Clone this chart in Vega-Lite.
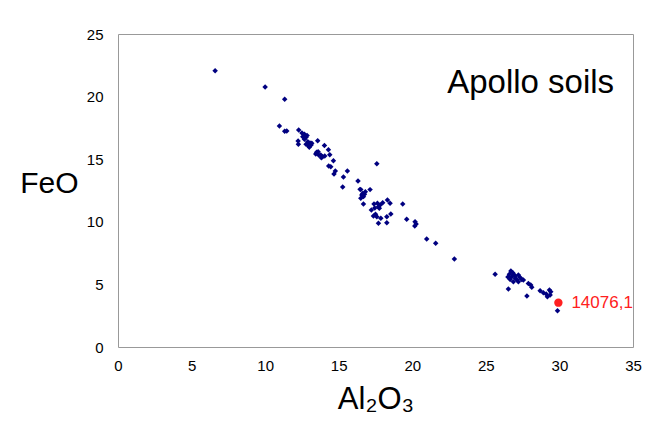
{
  "$schema": "https://vega.github.io/schema/vega-lite/v6.json",
  "autosize": "none",
  "width": 515,
  "height": 313,
  "padding": {"left": 118, "top": 34, "right": 36, "bottom": 90},
  "background": "white",
  "config": {
    "font": "Liberation Sans",
    "view": {"stroke": "#999999", "strokeWidth": 1},
    "axis": {"grid": false, "ticks": false, "domain": false, "labelFlush": false, "labelFont": "Liberation Sans", "labelFontSize": 15, "labelColor": "#000000", "titleFont": "Liberation Sans", "titleFontWeight": "normal", "titleColor": "#000000"}
  },
  "datasets": {
    "soils": [
      {"Al2O3": 6.6, "FeO": 22.07}, {"Al2O3": 10.0, "FeO": 20.77}, {"Al2O3": 11.33, "FeO": 19.78}, {"Al2O3": 10.97, "FeO": 17.65},
      {"Al2O3": 11.33, "FeO": 17.23}, {"Al2O3": 11.47, "FeO": 17.25}, {"Al2O3": 12.28, "FeO": 17.33}, {"Al2O3": 12.67, "FeO": 17.0},
      {"Al2O3": 12.56, "FeO": 16.8}, {"Al2O3": 12.78, "FeO": 16.75}, {"Al2O3": 12.67, "FeO": 16.6}, {"Al2O3": 12.85, "FeO": 16.9},
      {"Al2O3": 12.5, "FeO": 17.1}, {"Al2O3": 12.24, "FeO": 16.45}, {"Al2O3": 12.26, "FeO": 16.19}, {"Al2O3": 12.78, "FeO": 16.2},
      {"Al2O3": 12.94, "FeO": 16.08}, {"Al2O3": 13.12, "FeO": 16.13}, {"Al2O3": 13.0, "FeO": 15.95}, {"Al2O3": 13.17, "FeO": 16.27},
      {"Al2O3": 12.9, "FeO": 16.4}, {"Al2O3": 13.05, "FeO": 16.3}, {"Al2O3": 13.57, "FeO": 16.48}, {"Al2O3": 14.03, "FeO": 16.1},
      {"Al2O3": 14.3, "FeO": 15.76}, {"Al2O3": 13.5, "FeO": 15.55}, {"Al2O3": 13.64, "FeO": 15.34}, {"Al2O3": 13.44, "FeO": 15.42},
      {"Al2O3": 13.6, "FeO": 15.6}, {"Al2O3": 13.9, "FeO": 15.2}, {"Al2O3": 14.05, "FeO": 15.26}, {"Al2O3": 13.78, "FeO": 15.34},
      {"Al2O3": 13.82, "FeO": 15.12}, {"Al2O3": 14.39, "FeO": 15.36}, {"Al2O3": 14.64, "FeO": 14.88}, {"Al2O3": 14.32, "FeO": 14.46},
      {"Al2O3": 14.46, "FeO": 14.4}, {"Al2O3": 14.77, "FeO": 14.06}, {"Al2O3": 14.68, "FeO": 13.82}, {"Al2O3": 15.59, "FeO": 14.06},
      {"Al2O3": 15.32, "FeO": 13.58}, {"Al2O3": 16.31, "FeO": 13.26}, {"Al2O3": 15.27, "FeO": 12.78}, {"Al2O3": 16.5, "FeO": 12.57},
      {"Al2O3": 16.81, "FeO": 12.4}, {"Al2O3": 17.13, "FeO": 12.57}, {"Al2O3": 17.59, "FeO": 14.64}, {"Al2O3": 16.63, "FeO": 12.27},
      {"Al2O3": 16.45, "FeO": 12.59}, {"Al2O3": 16.5, "FeO": 11.88}, {"Al2O3": 16.68, "FeO": 12.01}, {"Al2O3": 16.57, "FeO": 12.14},
      {"Al2O3": 16.68, "FeO": 11.42}, {"Al2O3": 16.75, "FeO": 12.2}, {"Al2O3": 17.22, "FeO": 10.94}, {"Al2O3": 17.4, "FeO": 11.42},
      {"Al2O3": 17.63, "FeO": 11.48}, {"Al2O3": 17.81, "FeO": 11.34}, {"Al2O3": 17.76, "FeO": 11.08}, {"Al2O3": 17.99, "FeO": 11.53},
      {"Al2O3": 18.31, "FeO": 11.74}, {"Al2O3": 18.49, "FeO": 11.48}, {"Al2O3": 17.7, "FeO": 11.2}, {"Al2O3": 17.36, "FeO": 10.46},
      {"Al2O3": 17.59, "FeO": 10.41}, {"Al2O3": 17.86, "FeO": 10.28}, {"Al2O3": 17.7, "FeO": 9.88}, {"Al2O3": 18.27, "FeO": 10.41},
      {"Al2O3": 18.54, "FeO": 10.62}, {"Al2O3": 18.27, "FeO": 9.93}, {"Al2O3": 17.5, "FeO": 10.6}, {"Al2O3": 17.45, "FeO": 11.1},
      {"Al2O3": 19.35, "FeO": 11.42}, {"Al2O3": 19.62, "FeO": 10.2}, {"Al2O3": 20.19, "FeO": 10.01}, {"Al2O3": 20.26, "FeO": 9.82},
      {"Al2O3": 20.17, "FeO": 9.66}, {"Al2O3": 20.98, "FeO": 8.63}, {"Al2O3": 21.59, "FeO": 8.28}, {"Al2O3": 22.86, "FeO": 7.03},
      {"Al2O3": 25.63, "FeO": 5.81}, {"Al2O3": 26.7, "FeO": 6.07}, {"Al2O3": 26.83, "FeO": 5.93}, {"Al2O3": 26.6, "FeO": 5.81},
      {"Al2O3": 26.76, "FeO": 5.62}, {"Al2O3": 26.99, "FeO": 5.67}, {"Al2O3": 27.21, "FeO": 5.75}, {"Al2O3": 27.33, "FeO": 5.56},
      {"Al2O3": 27.1, "FeO": 5.4}, {"Al2O3": 27.44, "FeO": 5.4}, {"Al2O3": 26.65, "FeO": 5.4}, {"Al2O3": 26.87, "FeO": 5.21},
      {"Al2O3": 27.21, "FeO": 5.21}, {"Al2O3": 27.55, "FeO": 5.35}, {"Al2O3": 26.9, "FeO": 5.8}, {"Al2O3": 26.5, "FeO": 5.6},
      {"Al2O3": 27.0, "FeO": 5.5}, {"Al2O3": 26.53, "FeO": 4.63}, {"Al2O3": 27.89, "FeO": 5.08}, {"Al2O3": 28.05, "FeO": 4.95},
      {"Al2O3": 28.12, "FeO": 4.77}, {"Al2O3": 27.79, "FeO": 4.07}, {"Al2O3": 28.69, "FeO": 4.5}, {"Al2O3": 28.91, "FeO": 4.34},
      {"Al2O3": 29.1, "FeO": 4.23}, {"Al2O3": 29.32, "FeO": 4.55}, {"Al2O3": 29.41, "FeO": 4.42}, {"Al2O3": 29.37, "FeO": 4.15},
      {"Al2O3": 29.18, "FeO": 4.02}, {"Al2O3": 29.87, "FeO": 2.9}
    ],
    "highlight": [{"Al2O3": 29.93, "FeO": 3.54, "label": "14076,1"}],
    "note": [{"Al2O3": 22.37, "FeO": 21.1, "label": "Apollo soils"}]
  },
  "layer": [
    {
      "data": {"name": "soils"},
      "mark": {"type": "point", "shape": "diamond", "filled": true, "size": 30, "color": "#000080", "opacity": 1},
      "encoding": {
        "x": {"field": "Al2O3", "type": "quantitative", "scale": {"domain": [0, 35], "nice": false}, "axis": {"values": [0, 5, 10, 15, 20, 25, 30, 35], "labelPadding": 11, "title": "Al₂O₃", "titleFontSize": 31, "titlePadding": 11}},
        "y": {"field": "FeO", "type": "quantitative", "scale": {"domain": [0, 25], "nice": false}, "axis": {"values": [0, 5, 10, 15, 20, 25], "labelPadding": 15, "title": "FeO", "titleFontSize": 30, "titleAngle": 0, "titleAlign": "right", "titleBaseline": "middle", "titleX": -40, "titleY": 149}}
      }
    },
    {
      "data": {"name": "highlight"},
      "mark": {"type": "point", "shape": "circle", "filled": true, "size": 70, "color": "#FF2020", "opacity": 1},
      "encoding": {"x": {"field": "Al2O3", "type": "quantitative"}, "y": {"field": "FeO", "type": "quantitative"}}
    },
    {
      "data": {"name": "highlight"},
      "mark": {"type": "text", "align": "left", "baseline": "middle", "dx": 13, "fontSize": 17, "color": "#FF2020", "font": "Liberation Sans"},
      "encoding": {"x": {"field": "Al2O3", "type": "quantitative"}, "y": {"field": "FeO", "type": "quantitative"}, "text": {"field": "label"}}
    },
    {
      "data": {"name": "note"},
      "mark": {"type": "text", "align": "left", "baseline": "middle", "fontSize": 33, "color": "#000000", "font": "Liberation Sans"},
      "encoding": {"x": {"field": "Al2O3", "type": "quantitative"}, "y": {"field": "FeO", "type": "quantitative"}, "text": {"field": "label"}}
    }
  ]
}
